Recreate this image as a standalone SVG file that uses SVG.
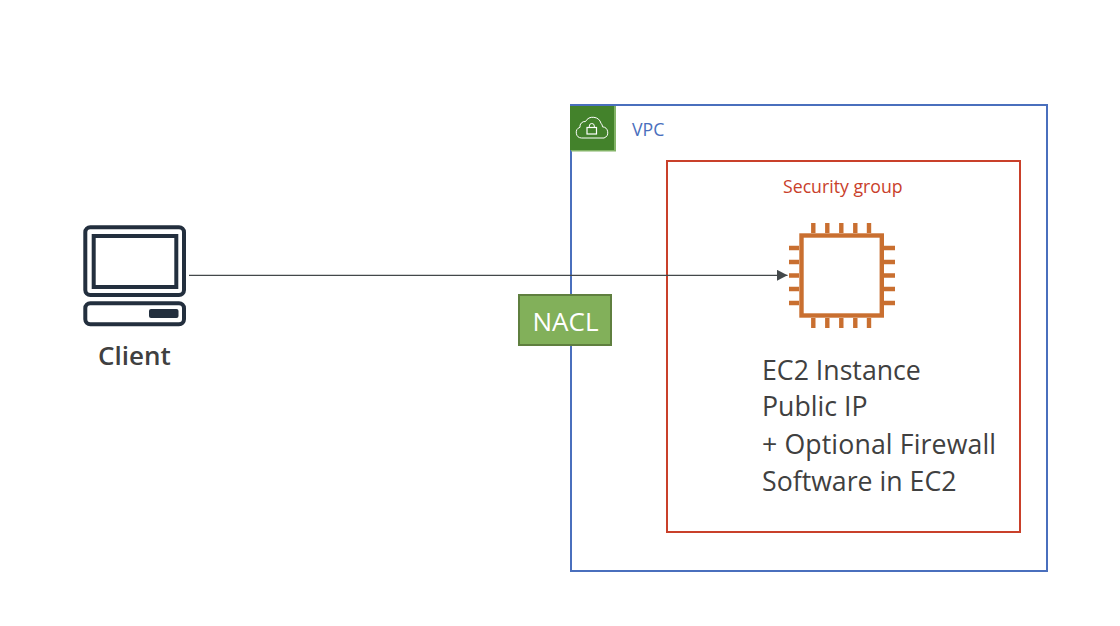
<svg xmlns="http://www.w3.org/2000/svg" width="1120" height="626" viewBox="0 0 1120 626">
<style>
text{font-family:"Open Sans","Noto Sans","Liberation Sans",sans-serif}
.dark{fill:none;stroke:#232f3e;stroke-width:4}
.pin{stroke:#c96f30;stroke-width:4.4;fill:none}
.big{font-size:26.700px;fill:#404040}
</style>
<defs>
<marker id="arrow" markerUnits="userSpaceOnUse" markerWidth="11" markerHeight="11" refX="10.500" refY="5.500" orient="auto"><path d="M0 0L10.500 5.500L0 11Z" fill="#43484a"/></marker>
</defs>
<rect width="1120" height="626" fill="#fff"/>
<g id="vpc">
<rect x="571" y="105" width="476" height="466" fill="none" stroke="#4a6fbd" stroke-width="2"/>
<rect x="571" y="106" width="45" height="45.500" fill="#82b366"/>
<rect x="570" y="106" width="44" height="44" fill="#43822b"/>
<path d="M581.500 138a5.500 5.500 0 0 1-1.500-10.700a5 5 0 0 1 5.500-5.800a8.500 8.500 0 0 1 15.500 1.800a5 5 0 0 1 1.500 3.500a5.800 5.800 0 0 1 1.500 11.200Z" fill="none" stroke="#fff" stroke-width="1"/>
<rect x="587" y="127.500" width="9.500" height="6.500" fill="none" stroke="#fff" stroke-width="1.200"/>
<path d="M589.300 127.500v-1.500a2.500 2.500 0 0 1 5 0v1.500" fill="none" stroke="#fff" stroke-width="1"/>
<text x="632" y="135.500" font-size="17.700" fill="#4a6fbd">VPC</text>
</g>
<g id="security-group">
<rect x="667" y="161" width="353" height="371" fill="none" stroke="#c9402a" stroke-width="2"/>
<text x="783" y="193" font-size="17.700" fill="#c9402a">Security group</text>
</g>
<g id="client">
<rect x="85.300" y="227.300" width="98.700" height="67.700" rx="5" class="dark"/>
<rect x="93.700" y="236" width="82.600" height="51" class="dark"/>
<rect x="85.300" y="303.300" width="98.700" height="21" rx="5" class="dark"/>
<rect x="149" y="309" width="29.500" height="9" rx="2" fill="#232f3e"/>
<text x="98" y="364.500" font-size="26" font-weight="600" fill="#404040">Client</text>
</g>
<g id="ec2">
<rect x="801.500" y="235.500" width="80.300" height="80" fill="none" stroke="#c96f30" stroke-width="4.400"/>
<path class="pin" d="M813.300 223v10M827.300 223v10M841.300 223v10M855.300 223v10M869 223v10M813.300 318v10M827.300 318v10M841.300 318v10M855.300 318v10M869 318v10M789 248h10M789 262h10M789 275.500h10M789 289h10M789 303h10M884 248h11M884 262h11M884 275.500h11M884 289h11M884 303h11"/>
<text class="big" x="762" y="380">EC2 Instance</text>
<text class="big" x="762" y="416">Public IP</text>
<text class="big" x="762" y="454" textLength="234">+ Optional Firewall</text>
<text class="big" x="762" y="491">Software in EC2</text>
</g>
<g id="connectors">
<path d="M189 275.300H787.500" fill="none" stroke="#43484a" stroke-width="1.300" marker-end="url(#arrow)"/>
</g>
<g id="nacl">
<rect x="519" y="295" width="92" height="50" fill="#82b05a" stroke="#5f7f3f" stroke-width="2"/>
<text x="565.500" y="331" font-size="26" fill="#fff" text-anchor="middle">NACL</text>
</g>
</svg>
